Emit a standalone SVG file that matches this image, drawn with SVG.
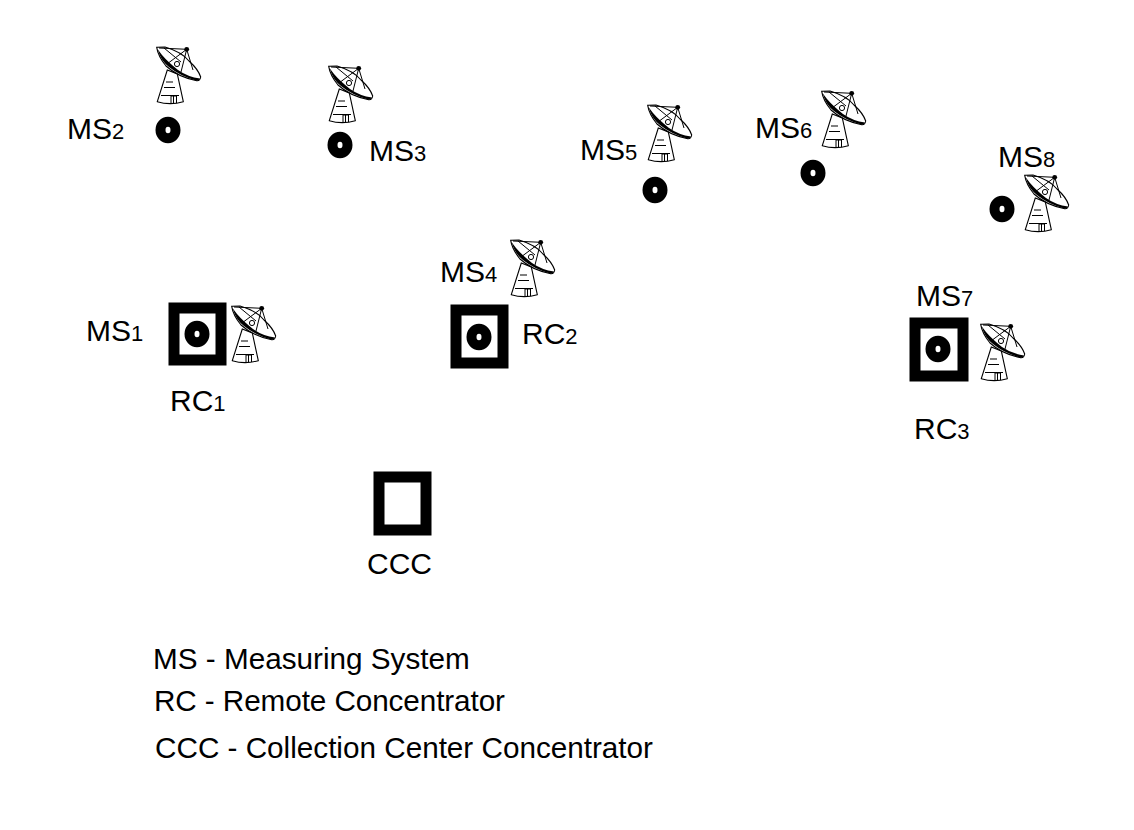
<svg xmlns="http://www.w3.org/2000/svg" width="1134" height="830" viewBox="0 0 1134 830">
<style>
text{font-family:"Liberation Sans",Arial,sans-serif;fill:#000}
.l{font-size:30px}
.s{font-size:22px}
.k{font-size:29.7px}
.q{fill:none;stroke:#000;stroke-width:11;filter:url(#b)}
.d{fill:none;stroke:#000;stroke-width:10;filter:url(#b)}
.t{fill:#fff;stroke:#000;stroke-width:1.1}
.w{fill:none;stroke:#000;stroke-width:1}
</style>
<defs>
<filter id="b" x="-100%" y="-100%" width="300%" height="300%"><feGaussianBlur stdDeviation="0.7"/></filter>
<g id="dish">
<path class="t" d="M11.3 24 L1.3 55.7 Q14 59.5 27.3 55.7 L21.3 28Z"/>
<path class="w" d="M10 36H17M8 41.5H19M5 49.5H23"/>
<path class="w" d="M15 57V50H20.5V57M17.5 50V57"/>
<path fill="#fff" stroke="#000" stroke-width="1.1" d="M0.7 1.3 L9 1 Q26 6 33 15 Q42 23 44.7 31 Q44 35 40.7 34.7 Q22 31 10 20 Q2 10 0.7 1.3Z"/>
<path fill="#000" d="M1.5 3 Q5 15 13 21 Q24 30 40.7 34.7 Q43 34.5 44 32.5 Q32 31 22 24 Q12 16 6 9 Z"/>
<path class="w" d="M3 2 L30.7 3.3 M30.7 3.3 L11 18 M30.7 3.3 L25 26 M30.7 3.3 L37 24 M8 2 L25 16"/>
<circle cx="30.7" cy="3.3" r="2.4" fill="#000"/>
<circle cx="21" cy="18" r="2.6" fill="#fff" stroke="#000"/>
</g>
</defs>
<g id="connectors"/>
<g id="ms2"><use href="#dish" x="156" y="46"/><ellipse class="d" cx="168" cy="130" rx="7.5" ry="8.2"/><text x="67" y="139" class="l">MS<tspan class="s">2</tspan></text></g>
<g id="ms3"><use href="#dish" x="328" y="65"/><ellipse class="d" cx="340" cy="145" rx="7.5" ry="8.2"/><text x="369" y="161" class="l">MS<tspan class="s">3</tspan></text></g>
<g id="ms5"><use href="#dish" x="647" y="104"/><ellipse class="d" cx="655" cy="190" rx="7.5" ry="8.2"/><text x="580" y="160" class="l">MS<tspan class="s">5</tspan></text></g>
<g id="ms6"><use href="#dish" x="821" y="90"/><ellipse class="d" cx="813" cy="173" rx="7.5" ry="8.2"/><text x="755" y="138" class="l">MS<tspan class="s">6</tspan></text></g>
<g id="ms8"><use href="#dish" x="1024" y="174"/><ellipse class="d" cx="1002" cy="209" rx="7.5" ry="8.2"/><text x="998" y="167" class="l">MS<tspan class="s">8</tspan></text></g>
<g id="ms4"><use href="#dish" x="510" y="239"/><text x="440" y="282" class="l">MS<tspan class="s">4</tspan></text></g>
<g id="rc1"><rect class="q" x="174" y="308" width="47" height="52"/><ellipse class="d" cx="197" cy="334" rx="7.5" ry="8.2"/><use href="#dish" x="231" y="305"/><text x="86" y="341" class="l">MS<tspan class="s">1</tspan></text><text x="170" y="411" class="l">RC<tspan class="s">1</tspan></text></g>
<g id="rc2"><rect class="q" x="456" y="310" width="47" height="53"/><ellipse class="d" cx="479" cy="337" rx="7.5" ry="8.2"/><text x="522" y="344" class="l">RC<tspan class="s">2</tspan></text></g>
<g id="rc3"><rect class="q" x="915" y="323" width="48" height="53"/><ellipse class="d" cx="938" cy="349" rx="7.5" ry="8.2"/><use href="#dish" x="980" y="323"/><text x="916" y="306" class="l">MS<tspan class="s">7</tspan></text><text x="914" y="439" class="l">RC<tspan class="s">3</tspan></text></g>
<g id="ccc"><rect class="q" x="379" y="477" width="47" height="53"/><text x="367" y="574" class="l">CCC</text></g>
<g id="legend">
<text x="153" y="669" class="k">MS - Measuring System</text>
<text x="154" y="711" class="k" textLength="351">RC - Remote Concentrator</text>
<text x="155" y="758" class="k" textLength="498">CCC - Collection Center Concentrator</text>
</g>
</svg>
